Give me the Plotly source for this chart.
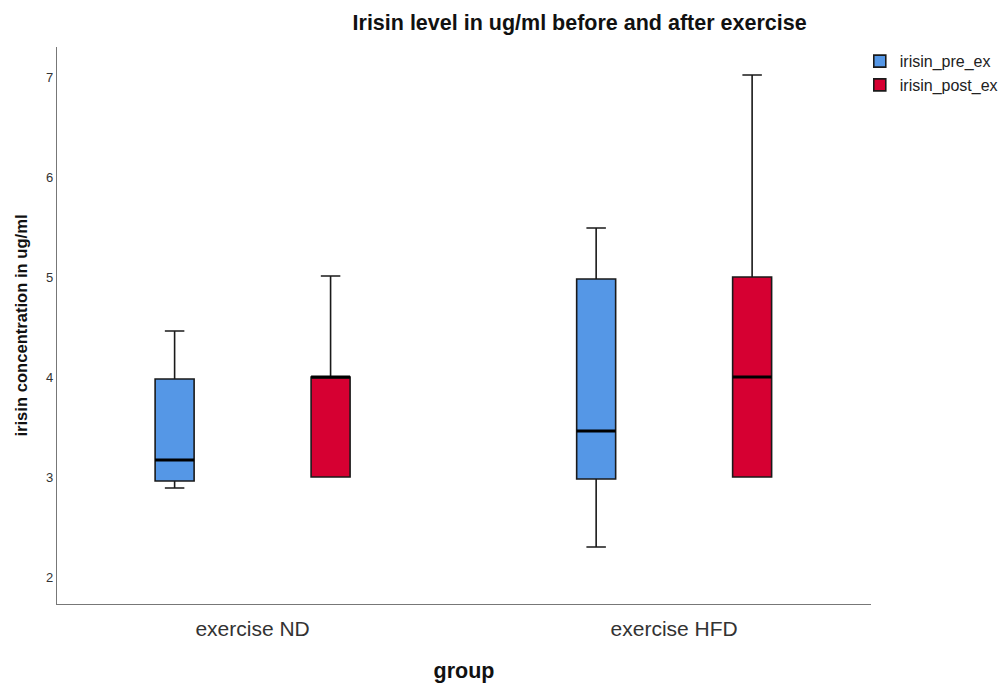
import plotly.graph_objects as go

categories = ["exercise ND", "exercise HFD"]

pre_lower = [2.89, 2.30]
pre_q1 = [2.96, 2.98]
pre_median = [3.17, 3.46]
pre_q3 = [3.98, 4.98]
pre_upper = [4.46, 5.49]

post_lower = [3.00, 3.00]
post_q1 = [3.00, 3.00]
post_median = [4.00, 4.00]
post_q3 = [4.00, 5.00]
post_upper = [5.01, 7.02]

series = [
    ("irisin_pre_ex", "pre", "#5597E6", pre_lower, pre_q1, pre_median, pre_q3, pre_upper),
    ("irisin_post_ex", "post", "#D60032", post_lower, post_q1, post_median, post_q3, post_upper),
]

fig = go.Figure()
for name, grp, color, lo, q1, med, q3, hi in series:
    fig.add_trace(go.Box(
        name=name, x=categories, q1=q1, median=med, q3=q3,
        lowerfence=lo, upperfence=hi, offsetgroup=grp,
        fillcolor=color, line=dict(color="#1a1a1a", width=1.6),
        whiskerwidth=0.5, boxpoints=False, hoverinfo="skip",
    ))
for name, grp, color, lo, q1, med, q3, hi in series:
    fig.add_trace(go.Box(
        name=name + " median", x=categories, q1=med, median=med, q3=med,
        lowerfence=med, upperfence=med, offsetgroup=grp,
        fillcolor="rgba(0,0,0,0)", line=dict(color="black", width=3.2),
        whiskerwidth=0, boxpoints=False, showlegend=False, hoverinfo="skip",
    ))

fig.update_layout(
    width=1006, height=684,
    boxmode="group", boxgap=0.26, boxgroupgap=0.75,
    plot_bgcolor="white", paper_bgcolor="white",
    margin=dict(l=49, r=142, t=39, b=88),
    font=dict(family="Liberation Sans, Arial, sans-serif", color="#222"),
    title=dict(text="<b>Irisin level in ug/ml before and after exercise</b>",
               x=0.642, xref="paper", xanchor="center", y=0.9795, yanchor="middle",
               font=dict(size=21.5, color="#111")),
    legend=dict(x=0.985, y=1.005, xanchor="left", yanchor="top",
                font=dict(size=16, color="#222"), tracegroupgap=0,
                bgcolor="rgba(0,0,0,0)"),
    showlegend=True,
)
fig.update_xaxes(
    type="category", range=[-0.464, 1.467],
    showline=True, linecolor="#777", linewidth=1.3, showgrid=False, ticks="",
    ticklabelstandoff=6,
    tickfont=dict(size=21, color="#333"),
    title=dict(text="<b>group</b>", font=dict(size=21.5, color="#111"), standoff=23),
)
fig.update_yaxes(
    range=[1.73, 7.3], tickvals=[2, 3, 4, 5, 6, 7],
    showline=True, linecolor="#777", linewidth=1.3, showgrid=False, zeroline=False,
    ticks="", tickfont=dict(size=13, color="#333"),
    title=dict(text="<b>irisin concentration in ug/ml</b>", font=dict(size=16.6, color="#111"), standoff=14),
)

fig.write_html("out.html")
